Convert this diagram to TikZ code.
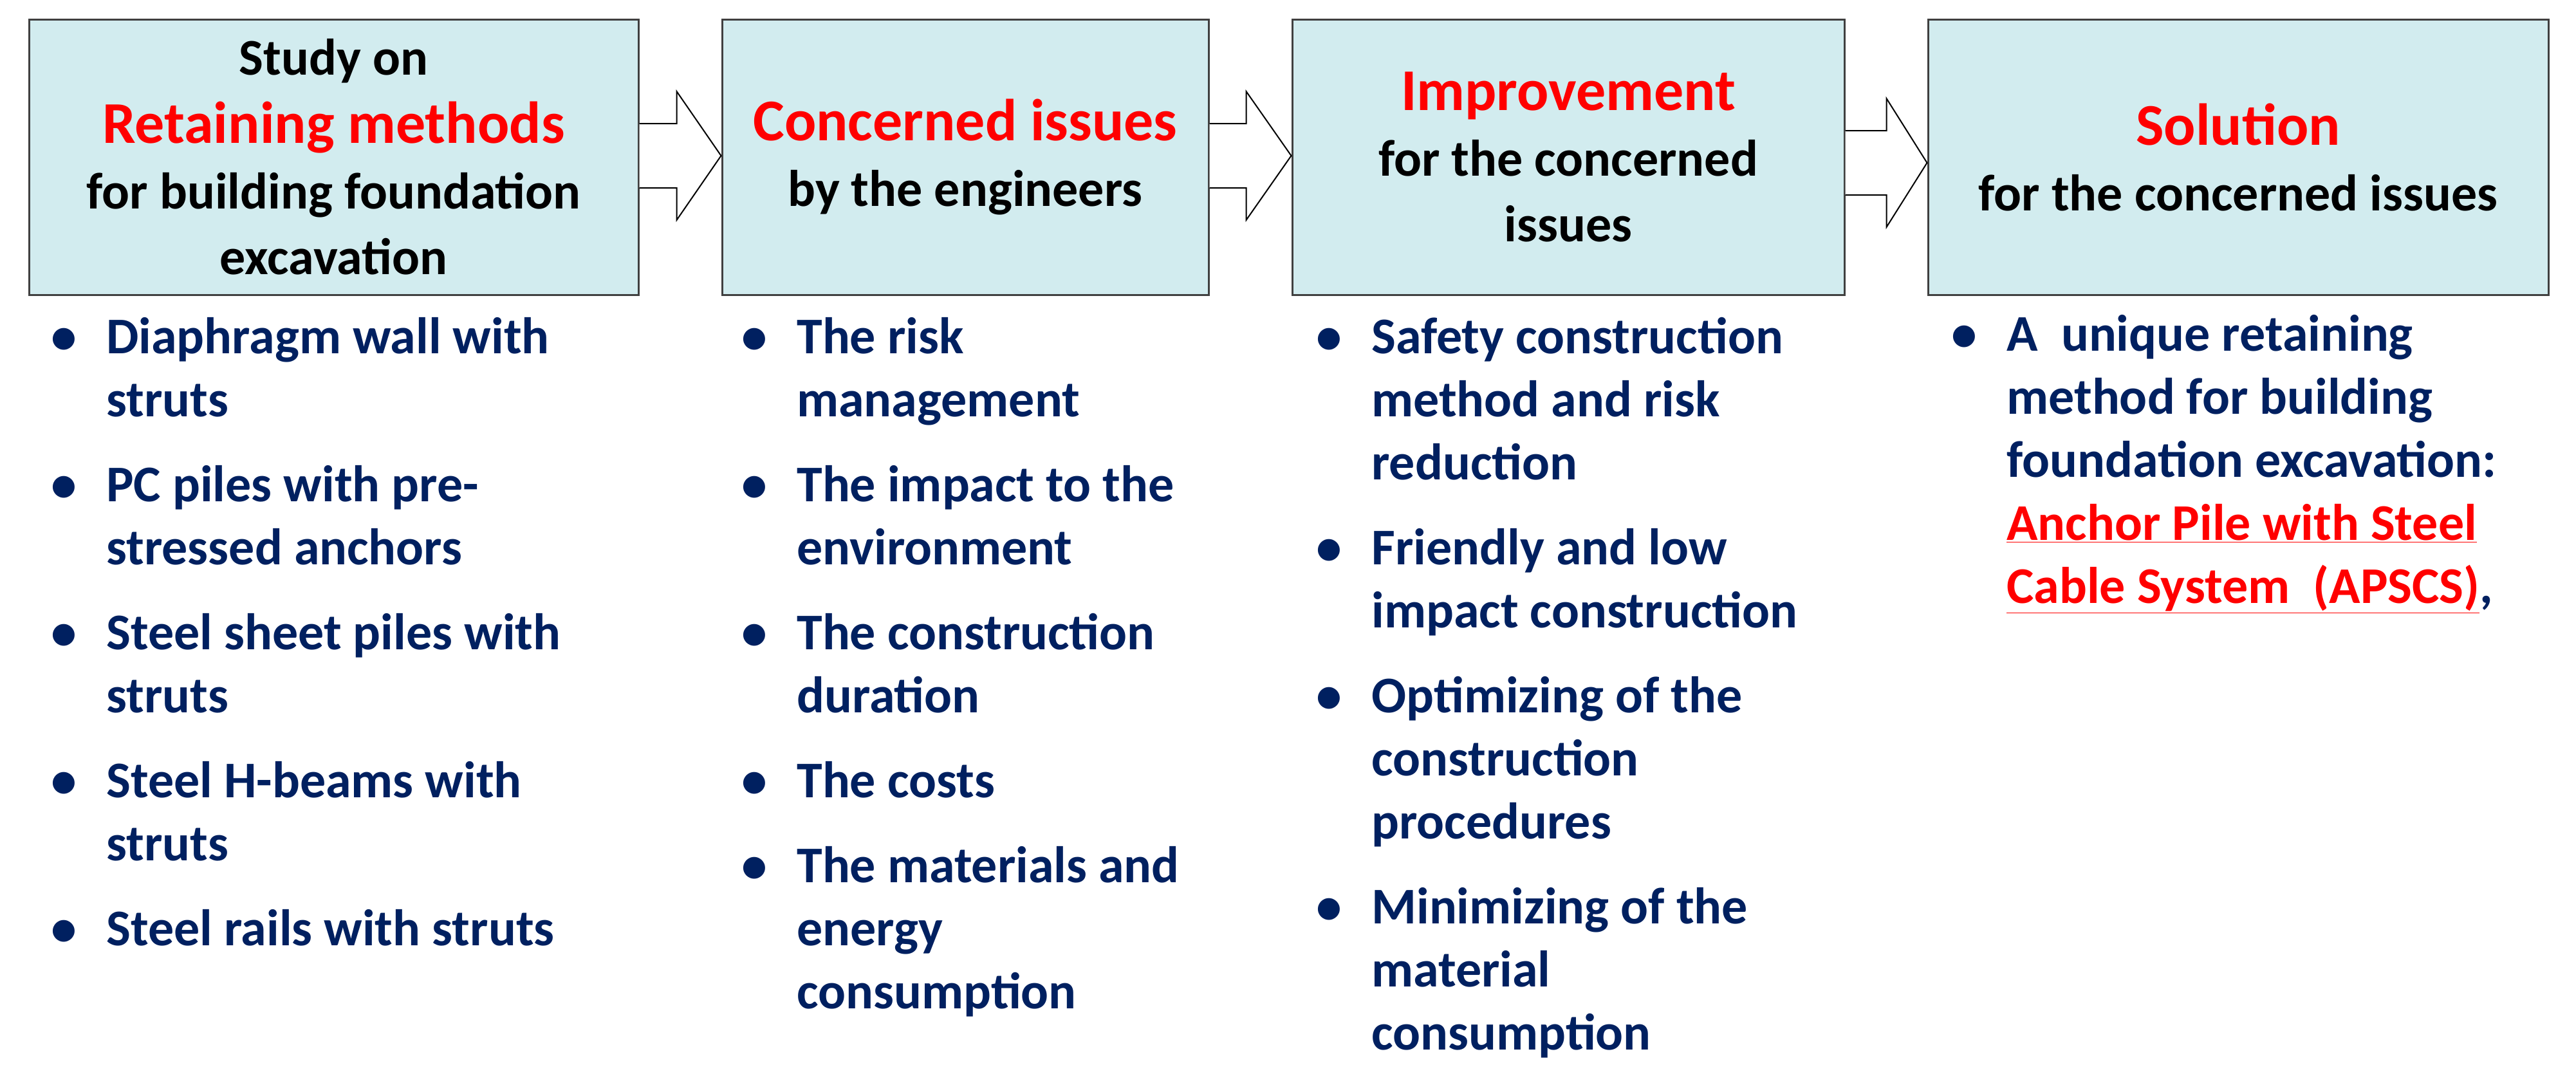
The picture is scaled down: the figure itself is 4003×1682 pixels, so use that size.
\documentclass[tikz,border=0pt]{standalone}
\usepackage{fontspec}
\setmainfont{Carlito}
\usetikzlibrary{calc}
\definecolor{boxfill}{RGB}{210,236,239}
\definecolor{boxline}{RGB}{64,64,64}
\definecolor{navy}{RGB}{0,32,96}
\definecolor{hred}{RGB}{255,0,0}
\newcommand\bfnt{\fontsize{40}{51}\selectfont\bfseries}
\newcommand\rfnt{\fontsize{46}{51}\selectfont\bfseries\color{hred}}
\newcommand\lfnt{\fontsize{40}{49}\selectfont\bfseries\color{navy}}
\newcommand\bul{\leavevmode\llap{\textbullet\hspace{23pt}}}
\newcommand\fst{\rule{0pt}{30pt}}
\newcommand\barr[4]{%
  \draw[barrow] ($(#1.east)+(0,#3-50)$) -- ($(#1.east)+(#4,#3-50)$) -- ($(#1.east)+(#4,#3-100)$)
    -- ($(#2.west)+(0,#3)$) -- ($(#1.east)+(#4,#3+100)$) -- ($(#1.east)+(#4,#3+50)$) -- ($(#1.east)+(0,#3+50)$);}
\begin{document}
\begin{tikzpicture}[x=0.5pt,y=-0.5pt,
  titlebox/.style={draw=boxline,line width=1.5pt,fill=boxfill,align=center,inner sep=0pt,font=\bfnt,minimum height=214pt},
  blist/.style={anchor=north west,align=left,inner sep=0pt,font=\lfnt},
  barrow/.style={draw=black,line width=1pt,fill=white,line join=miter}]
\fill[white] (0,0) rectangle (4003,1682);
\useasboundingbox (0,0) rectangle (4003,1682);

\node[titlebox,minimum width=473.5pt] (b1) at (518.5,244)
  {Study on\\[2pt]{\rfnt Retaining methods}\\for building foundation\\excavation};
\node[titlebox,minimum width=378pt] (b2) at (1500,244)
  {{\rfnt Concerned issues}\\by the engineers};
\node[titlebox,minimum width=429pt] (b3) at (2437,244)
  {{\rfnt Improvement}\\for the concerned\\issues};
\node[titlebox,minimum width=482pt] (b4) at (3478,244)
  {{\rfnt Solution}\\for the concerned issues};

\barr{b1}{b2}{-2}{58}
\barr{b2}{b3}{-2}{57}
\barr{b3}{b4}{9}{64}

\node[blist] (l1) at (165,489) {\bul\fst Diaphragm wall with\\struts\\[17pt]
  \bul PC piles with pre-\\stressed anchors\\[17pt]
  \bul Steel sheet piles with\\struts\\[17pt]
  \bul Steel H-beams with\\struts\\[17pt]
  \bul Steel rails with struts};
\node[blist] (l2) at (1238,489) {\bul\fst The risk\\management\\[17pt]
  \bul The impact to the\\environment\\[17pt]
  \bul The construction\\duration\\[17pt]
  \bul The costs\\[17pt]
  \bul The materials and\\energy\\consumption};
\node[blist] (l3) at (2131,489) {\bul\fst Safety construction\\method and risk\\reduction\\[17pt]
  \bul Friendly and low\\impact construction\\[17pt]
  \bul Optimizing of the\\construction\\procedures\\[17pt]
  \bul Minimizing of the\\material\\consumption};
\node[blist] (l4) at (3118,485) {\bul\fst A\ \ unique retaining\\method for building\\foundation excavation:\\
  {\color{hred}\underline{Anchor Pile with Steel}}\\
  {\color{hred}\underline{Cable System\ \ (APSCS)}},};
\end{tikzpicture}
\end{document}
